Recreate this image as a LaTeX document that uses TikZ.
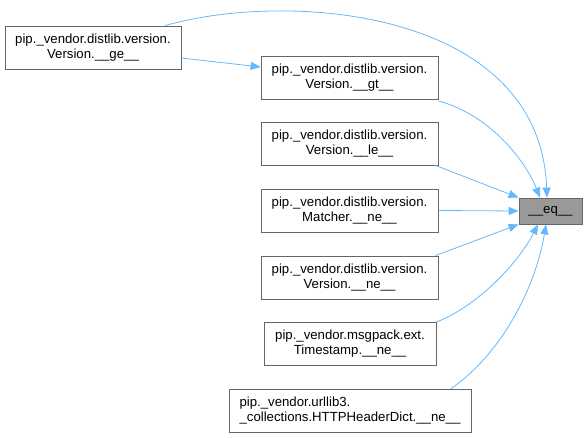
\documentclass[tikz,border=0pt]{standalone}
\usepackage{fontspec}
\setmainfont{Liberation Sans}
\usetikzlibrary{arrows.meta}
\definecolor{edgeblue}{HTML}{63B8FF}
\definecolor{boxgray}{HTML}{666666}
\definecolor{eqfill}{HTML}{999999}

\begin{document}
\begin{tikzpicture}[x=1pt, y=-1pt,
    fn/.style={draw=boxgray, fill=white, line width=0.8pt, align=center,
        minimum height=43pt, inner sep=2pt,
        font=\fontsize{13.2}{15}\selectfont},
    call/.style={draw=edgeblue, line width=0.8pt,
        -{Triangle[length=10pt, width=8pt]}}
]
\useasboundingbox (0,0) rectangle (588,438);

% callers
\node[fn, minimum width=176pt] (ge) at (93,47.5)
    {pip.\_vendor.distlib.version.\\Version.\_\_ge\_\_};
\node[fn, minimum width=177pt] (gt) at (349.5,77.5)
    {pip.\_vendor.distlib.version.\\Version.\_\_gt\_\_};
\node[fn, minimum width=177pt] (le) at (349.5,143.5)
    {pip.\_vendor.distlib.version.\\Version.\_\_le\_\_};
\node[fn, minimum width=177pt] (mne) at (349.5,210.5)
    {pip.\_vendor.distlib.version.\\Matcher.\_\_ne\_\_};
\node[fn, minimum width=177pt] (vne) at (349.5,277.5)
    {pip.\_vendor.distlib.version.\\Version.\_\_ne\_\_};
\node[fn, minimum width=172pt] (tsne) at (350,344)
    {pip.\_vendor.msgpack.ext.\\Timestamp.\_\_ne\_\_};
\node[fn, minimum width=242pt, align=left] (hne) at (350,410.5)
    {pip.\_vendor.urllib3.\\\_collections.HTTPHeaderDict.\_\_ne\_\_};

% callee
\node[fn, fill=eqfill, minimum width=63pt, minimum height=26pt] (eq) at (550.5,211)
    {\_\_eq\_\_};

\draw[call] ([yshift=-10.5pt]ge.east) -- ([yshift=10.5pt]gt.west);
\draw[call] ([xshift=72pt]ge.north) .. controls (290,-10) and (540,10) .. ([xshift=-3.5pt]eq.north);
\draw[call] ([yshift=-1.5pt]gt.south east) .. controls (490,115) and (525,160) .. ([xshift=-10.5pt]eq.north);
\draw[call] ([xshift=-3pt]le.south east) -- (eq.north west);
\draw[call] (mne.east) -- (eq.west);
\draw[call] ([xshift=-3pt]vne.north east) -- (eq.south west);
\draw[call] (tsne.north east) .. controls (480,305) and (520,260) .. ([xshift=-12.5pt]eq.south);
\draw[call] ([xshift=101pt]hne.north) .. controls (500,355) and (535,290) .. ([xshift=-4.5pt]eq.south);
\end{tikzpicture}
\end{document}
